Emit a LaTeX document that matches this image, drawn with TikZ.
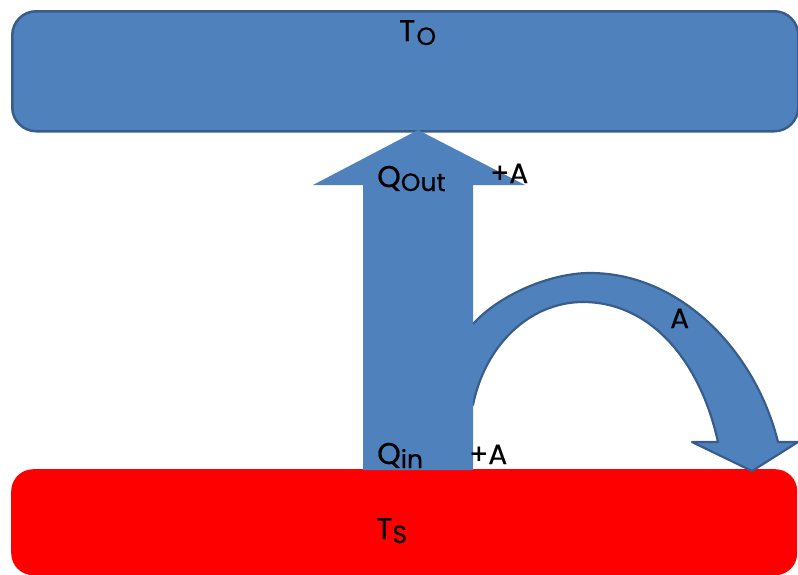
\documentclass[tikz,border=0pt]{standalone}
\usepackage{fontspec}
\setmainfont{Poppins}[FakeBold=0.5]
\definecolor{pblue}{HTML}{4F81BD}
\definecolor{pedge}{HTML}{385D8A}
\newcommand\lsub[1]{\raisebox{-4pt}{\fontsize{25}{28}\selectfont #1}}
\begin{document}
\begin{tikzpicture}[x=1pt,y=-1pt,
  lbl/.style={anchor=base west, inner sep=0pt, font=\fontsize{30}{34}\selectfont},
  small/.style={anchor=base west, inner sep=0pt, font=\fontsize{28}{32}\selectfont},
  boxblue/.style={draw=pedge, line width=2.5pt, fill=pblue, rounded corners=24pt, inner sep=0pt, anchor=north west},
  boxred/.style={fill=red, rounded corners=22pt, inner sep=0pt, anchor=north west}]
\useasboundingbox (0,0) rectangle (798,574);
% reservoirs
\node[boxblue, minimum width=786pt, minimum height=120pt] (TO) at (11,10) {};
\node[boxred, minimum width=786pt, minimum height=106pt] (TS) at (11,469) {};
% curved arrow A
\filldraw[fill=pblue, draw=pedge, line width=2.2pt, line join=round]
  (465,330) -- (475,322) .. controls (500,295) and (550,273) .. (590,273)
  .. controls (680,273) and (755,350) .. (778,442)
  -- (798,442) -- (752,471) -- (692,442) -- (718,442)
  .. controls (700,360) and (650,302) .. (583,302)
  .. controls (530,302) and (485,345) .. (473,405) -- (465,405) -- cycle;
% up arrow
\fill[pblue] (363,470) -- (363,185) -- (313,185) -- (418,130) -- (525,185)
  -- (473,185) -- (473,470) -- cycle;
% labels
\node[lbl] (tO) at (399,41) {T\kern1pt\lsub{O}};
\node[lbl] (qout) at (377,187) {Q\lsub{Out}};
\node[small] (pA1) at (490,183) {+A};
\node[small] (aA) at (670,328) {A};
\node[lbl] (qin) at (377,464) {Q\lsub{in}};
\node[small] (pA2) at (469,464) {+A};
\node[lbl] (tS) at (376,539) {T\lsub{S}};
\end{tikzpicture}
\end{document}
